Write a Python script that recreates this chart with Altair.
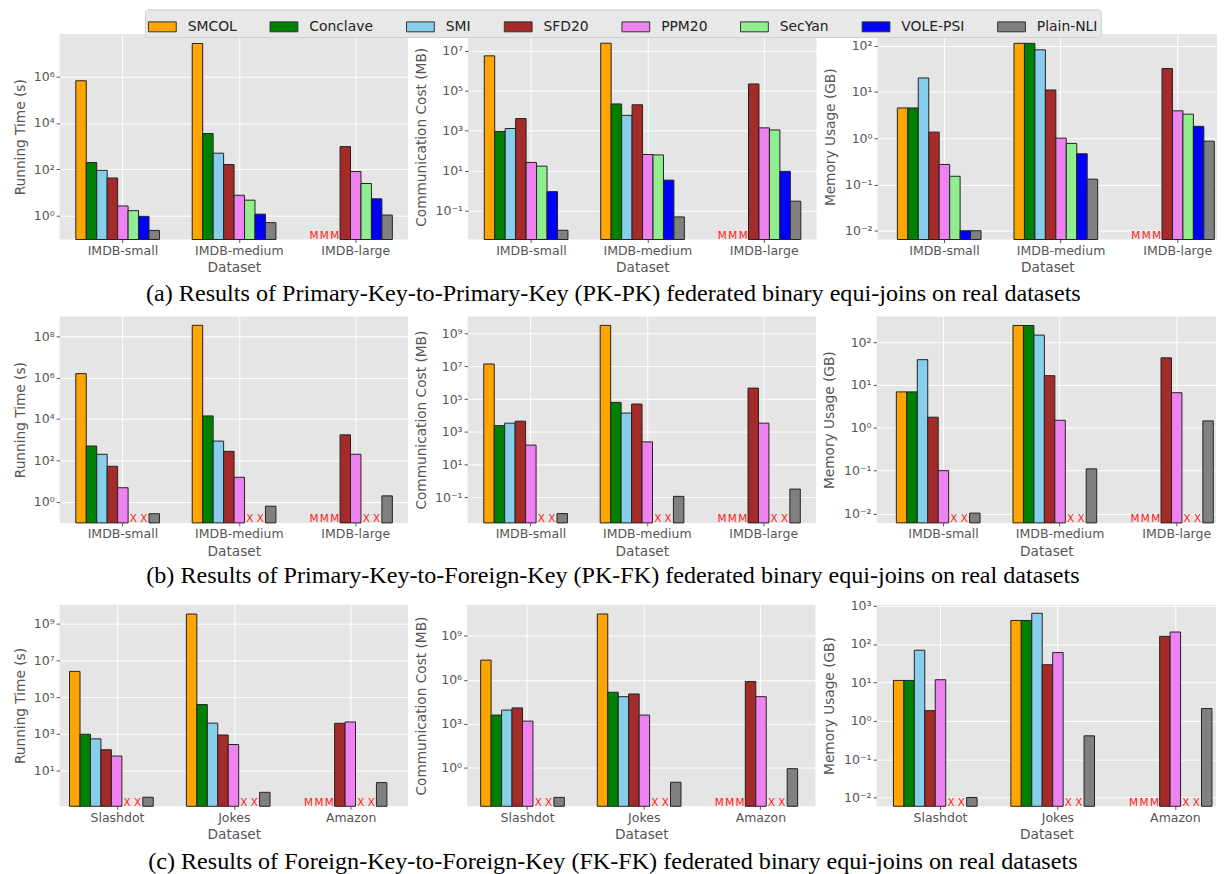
import altair as alt
import pandas as pd

series = ["SMCOL", "Conclave", "SMI", "SFD20", "PPM20", "SecYan", "VOLE-PSI", "Plain-NLI"]
colors = ["#FFA500", "#008000", "#87CEEB", "#A52A2A", "#EE82EE", "#90EE90", "#0000FF", "#808080"]
imdb = ["IMDB-small", "IMDB-medium", "IMDB-large"]
fkfk_sets = ["Slashdot", "Jokes", "Amazon"]

# (a) PK-PK
pkpk_time = [[6.5e5, 200, 92, 43, 2.7, 1.7, 0.97, 0.24],
             [2.6e7, 3500, 500, 163, 7.8, 4.8, 1.2, 0.52],
             [None, None, None, 960, 82, 25, 5.5, 1.1]]
pkpk_comm = [[5.6e6, 930, 1300, 4100, 26, 17, 0.9, 0.0105],
             [2.4e7, 2.2e4, 5900, 2.0e4, 65, 62, 3.4, 0.049],
             [None, None, None, 2.2e5, 1400, 1100, 9.3, 0.30]]
pkpk_mem = [[4.5, 4.5, 20, 1.35, 0.27, 0.15, 0.01, 0.01],
            [112, 112, 81, 11, 1.0, 0.77, 0.46, 0.13],
            [None, None, None, 32, 3.9, 3.3, 1.8, 0.86]]
# (b) PK-FK
pkfk_time = [[1.56e6, 490, 195, 51, 4.7, None, None, 0.26],
             [3.4e8, 1.4e4, 850, 270, 15, None, None, 0.6],
             [None, None, None, 1700, 195, None, None, 1.9]]
pkfk_comm = [[1.4e7, 2400, 3400, 4500, 155, None, None, 0.0102],
             [3.2e9, 6.3e4, 1.4e4, 5.0e4, 245, None, None, 0.115],
             [None, None, None, 4.7e5, 3400, None, None, 0.32]]
pkfk_mem = [[6.9, 6.9, 39, 1.77, 0.1, None, None, 0.0102],
            [245, 245, 146, 16.5, 1.5, None, None, 0.11],
            [None, None, None, 43, 6.6, None, None, 1.45]]
# (c) FK-FK
fkfk_time = [[2.6e6, 960, 540, 137, 62, None, None, 0.35],
             [3.5e9, 4.0e4, 3900, 880, 265, None, None, 0.65],
             [None, None, None, 3800, 4500, None, None, 2.2]]
fkfk_comm = [[2.2e7, 3900, 8500, 1.2e4, 1500, None, None, 0.0093],
             [3.1e10, 1.4e5, 7e4, 1.07e5, 3900, None, None, 0.10],
             [None, None, None, 7.7e5, 7e4, None, None, 0.85]]
fkfk_mem = [[11.3, 11.3, 69, 1.85, 11.8, None, None, 0.0102],
            [410, 410, 630, 29, 60, None, None, 0.41],
            [None, None, None, 158, 205, None, None, 2.1]]

mk_none = ["", "", "", "", "", "", "", ""]
mk_M = ["M", "M", "M", "", "", "", "", ""]
mk_X = ["", "", "", "", "", "X", "X", ""]
mk_MX = ["M", "M", "M", "", "", "X", "X", ""]
pkpk_marks = [mk_none, mk_none, mk_M]
pkfk_marks = [mk_X, mk_X, mk_MX]

# log10 axis domains and tick exponents
dom_a = [[-1.01, 7.82], [-2.44, 7.84], [-2.19, 2.25]]
dom_b = [[-1.03, 8.96], [-2.56, 10.05], [-2.22, 2.6]]
dom_c = [[-0.95, 10.05], [-2.64, 11.12], [-2.22, 3.02]]
ticks_a = [[0, 2, 4, 6], [-1, 1, 3, 5, 7], [-2, -1, 0, 1, 2]]
ticks_b = [[0, 2, 4, 6, 8], [-1, 1, 3, 5, 7, 9], [-2, -1, 0, 1, 2]]
ticks_c = [[1, 3, 5, 7, 9], [0, 3, 6, 9], [-2, -1, 0, 1, 2, 3]]

ytitles = ["Running Time (s)", "Communication Cost (MB)", "Memory Usage (GB)"]
captions = [
    "(a) Results of Primary-Key-to-Primary-Key (PK-PK) federated binary equi-joins on real datasets",
    "(b) Results of Primary-Key-to-Foreign-Key (PK-FK) federated binary equi-joins on real datasets",
    "(c) Results of Foreign-Key-to-Foreign-Key (FK-FK) federated binary equi-joins on real datasets",
]

SUP = {"0": "⁰", "1": "¹", "2": "²", "3": "³", "4": "⁴", "5": "⁵",
       "6": "⁶", "7": "⁷", "8": "⁸", "9": "⁹", "-": "⁻"}


def sup_label(e):
    return "10" + "".join(SUP[c] for c in str(e))


def label_expr(ticks):
    parts = "".join(
        f"round(log(datum.value)/LN10) == {e} ? '{sup_label(e)}' : " for e in ticks)
    return parts + "''"


def make_df(datasets, vals, marks):
    rows = []
    for d, vs, ms in zip(datasets, vals, marks):
        for s, v, m in zip(series, vs, ms):
            rows.append({"dataset": d, "series": s, "value": v, "marker": m})
    return pd.DataFrame(rows)


legend = alt.Legend(
    title=None, orient="none", legendX=86, legendY=-25, direction="horizontal",
    columns=8, symbolType="M-1,-0.357H1V0.357H-1Z", symbolSize=784,
    symbolStrokeColor="#333333", symbolStrokeWidth=1, symbolOpacity=1,
    labelFont="DejaVu Sans", labelFontSize=14, labelColor="#222222",
    labelOffset=11, columnPadding=30.5, padding=3, fillColor="#E8E8E8",
    strokeColor="#D0D0D0", cornerRadius=3,
)


def panel(datasets, vals, marks, ytitle, dom, ticks, W, H, E, tp, band):
    pi, po, al = band
    df = make_df(datasets, vals, marks)
    lo, hi = 10 ** dom[0], 10 ** dom[1]
    xscale = alt.Scale(domain=datasets, paddingInner=pi, paddingOuter=po, align=al)
    # ticks/grid sit at the centre of the 5th bar (PPM20), as in the original
    xaxis = alt.Axis(title="Dataset", labelAngle=0, tickSize=3, labelPadding=2,
                     titlePadding=4, grid=True, bandPosition=0.5625, labelOffset=5.3)
    xo = alt.XOffset("series:N", scale=alt.Scale(domain=series,
                                                  paddingInner=0, paddingOuter=0))
    yscale = alt.Scale(type="log", domain=[lo, hi], nice=False)
    yaxis = alt.Axis(title=ytitle, values=[10.0 ** e for e in ticks],
                     labelExpr=label_expr(ticks), tickSize=3.5, labelPadding=2,
                     minExtent=E, maxExtent=E, titlePadding=tp, grid=True)
    bars = alt.Chart(df).transform_filter(
        "isValid(datum.value) && datum.value > 0"
    ).mark_bar(stroke="#222222", strokeWidth=1).encode(
        x=alt.X("dataset:N", scale=xscale, axis=xaxis),
        xOffset=xo,
        y=alt.Y("value:Q", scale=yscale, axis=yaxis),
        y2=alt.datum(lo),
        color=alt.Color("series:N", scale=alt.Scale(domain=series, range=colors),
                        legend=legend),
    )
    txt = alt.Chart(df).transform_filter("datum.marker != ''").mark_text(
        color="#FF1A1A", fontSize=10.5, font="DejaVu Sans", baseline="alphabetic", dy=-0.5
    ).encode(
        x=alt.X("dataset:N", scale=xscale, axis=xaxis),
        xOffset=xo,
        y=alt.datum(lo),
        text="marker:N",
    )
    return alt.layer(bars, txt).properties(width=W, height=H)


def row(datasets, data3, marks, doms, ticks, H, Es, tps, spacing, caption, offset, bands):
    W = [351, 351, 342]
    panels = [panel(datasets, data3[i], marks, ytitles[i], doms[i], ticks[i],
                    W[i], H, Es[i], tps[i], bands[i]) for i in range(3)]
    return alt.hconcat(*panels, spacing=spacing).properties(
        title=alt.TitleParams(caption, orient="bottom", anchor="middle",
                              font="Liberation Serif", fontSize=24.3,
                              fontWeight="normal", color="black",
                              offset=offset, dx=-2))


# (paddingInner, paddingOuter, align) of the dataset band scale in each panel
bands_ab = [(0.2813, 0.1368, 0.508), (0.2813, 0.1368, 0.508), (0.2826, 0.0966, 0.88)]
bands_c = [(0.2694, 0.1258, 0.338), (0.285, 0.136, 0.428), (0.2874, 0.0892, 0.806)]

rowA = row(imdb, [pkpk_time, pkpk_comm, pkpk_mem], pkpk_marks, dom_a, ticks_a, 207,
           [29.2, 36.6, 37.1], [3, 3, 3], 6.5, captions[0], 7.3, bands_ab)
rowB = row(imdb, [pkfk_time, pkfk_comm, pkfk_mem], pkfk_marks, dom_b, ticks_b, 208,
           [29.1, 36.8, 37.5], [3, 3, 3], 6, captions[1], 5.8, bands_ab)
rowC = row(fkfk_sets, [fkfk_time, fkfk_comm, fkfk_mem], pkfk_marks, dom_c, ticks_c, 203,
           [29.2, 35.7, 37.7], [3, 3, 3], 6.5, captions[2], 9, bands_c)

chart = alt.vconcat(rowA, rowB, rowC, spacing=10.5).properties(
    padding={"left": 5, "top": -3, "right": 0, "bottom": 0}
).configure_view(fill="#E5E5E5", stroke=None).configure_axis(
    labelFont="DejaVu Sans", titleFont="DejaVu Sans", labelColor="#555555",
    titleColor="#555555", tickColor="#555555", gridColor="#FFFFFF", gridWidth=1,
    domain=False, labelFontSize=12.6, titleFontSize=13.8, titleFontWeight="normal",
)

chart.save("out.html", embed_options={"renderer": "svg", "actions": False})
